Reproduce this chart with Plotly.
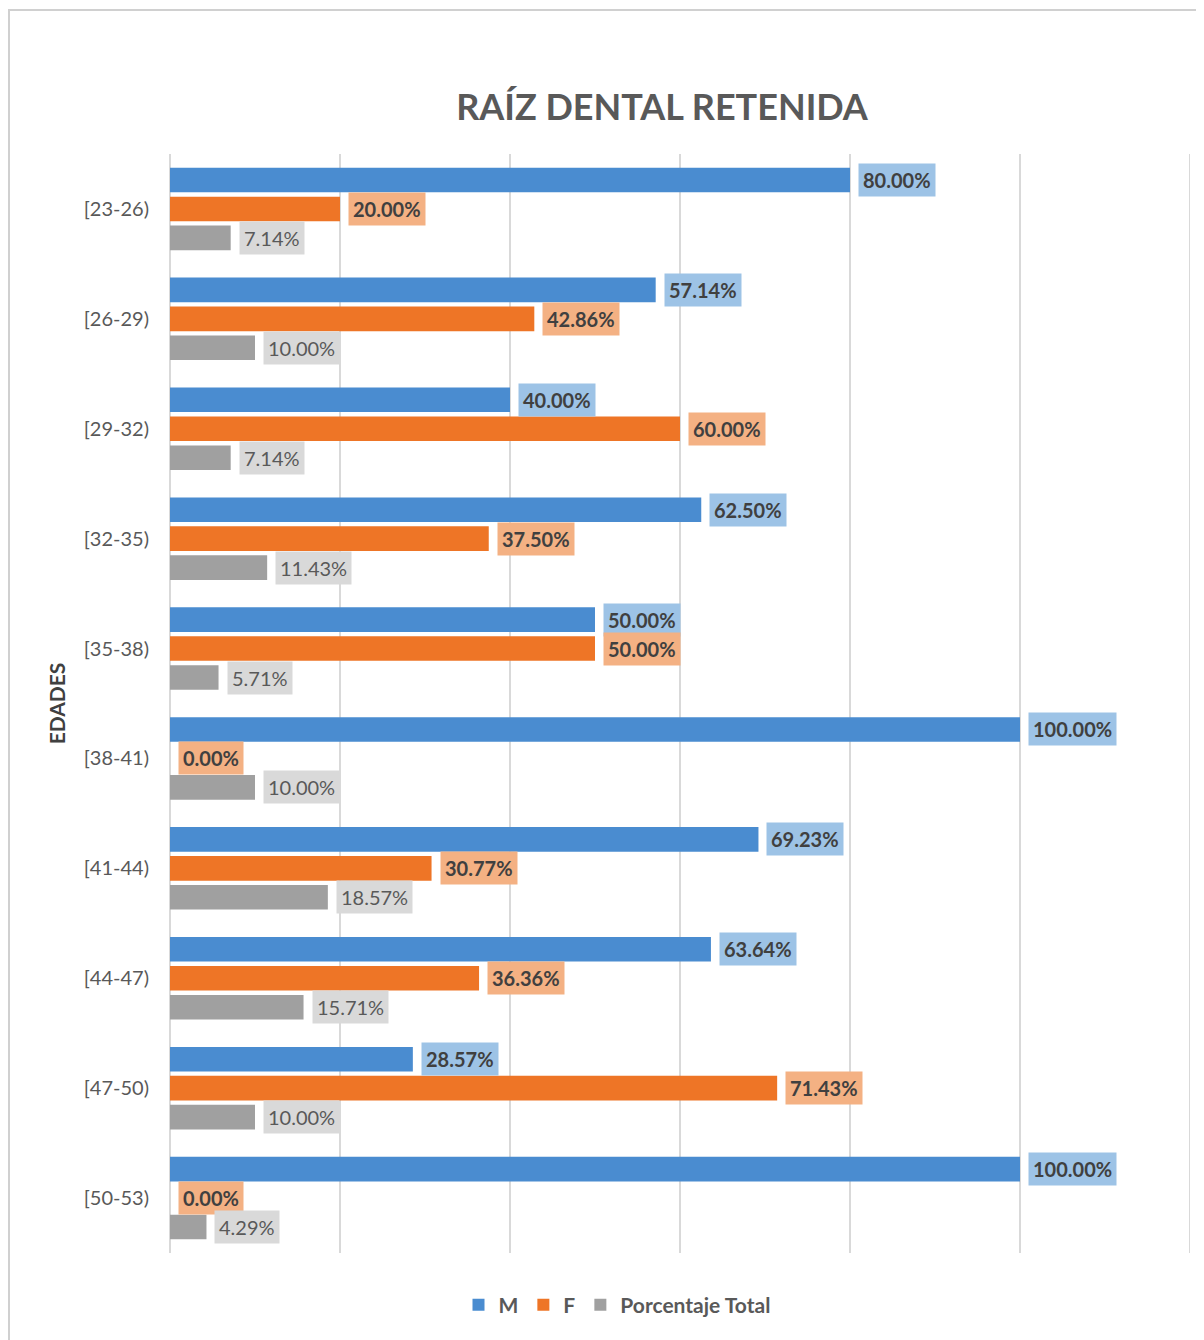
import plotly.graph_objects as go

categories = ["[23-26)", "[26-29)", "[29-32)", "[32-35)", "[35-38)",
              "[38-41)", "[41-44)", "[44-47)", "[47-50)", "[50-53)"]
m_values = [80.00, 57.14, 40.00, 62.50, 50.00, 100.00, 69.23, 63.64, 28.57, 100.00]
f_values = [20.00, 42.86, 60.00, 37.50, 50.00, 0.00, 30.77, 36.36, 71.43, 0.00]
total_values = [7.14, 10.00, 7.14, 11.43, 5.71, 10.00, 18.57, 15.71, 10.00, 4.29]
series_names = ["M", "F", "Porcentaje Total"]
x_max = 120

bar_colors = ["#4A8CD0", "#EE7526", "#A0A0A0"]
label_bg = ["#9DC3E6", "#F4B183", "#D9D9D9"]
label_bold = [True, True, False]
label_color = ["#404040", "#404040", "#595959"]
FONT = "Lato, 'Open Sans', sans-serif"

# page body adds an 8px offset; margins below account for it
L, T = 162, 146
PW, PH = 1020, 1099
W, H = 1196, 1332

fig = go.Figure()
all_series = [m_values, f_values, total_values]
for name, vals, col in zip(series_names, all_series, bar_colors):
    fig.add_trace(go.Bar(
        y=categories, x=vals, name=f"<b>{name}</b>", orientation="h",
        marker=dict(color=col, line=dict(width=0)),
        hovertemplate=name + ": %{x:.2f}%<extra>%{y}</extra>",
    ))

shifts = [29, 0, -29]
for i, vals in enumerate(all_series):
    for cat, v in zip(categories, vals):
        txt = f"{v:.2f}%"
        if label_bold[i]:
            txt = f"<b>{txt}</b>"
        fig.add_annotation(
            x=v, y=cat, xref="x", yref="y", text=txt, showarrow=False,
            xanchor="left", yanchor="middle", xshift=8, yshift=shifts[i],
            bgcolor=label_bg[i], borderpad=4,
            font=dict(family=FONT, size=20, color=label_color[i]),
        )

# chart border (top and left visible)
fig.add_shape(type="rect", xref="paper", yref="paper",
              x0=(1 - L) / PW, x1=(W + 40 - L) / PW,
              y0=-(H + 40 - T - PH) / PH, y1=1 + (T - 2) / PH,
              line=dict(color="#D0D0D0", width=2), layer="below")
# gridline at the end of the value axis
fig.add_shape(type="line", xref="x", yref="paper", x0=x_max, x1=x_max, y0=0, y1=1,
              line=dict(color="#D9D9D9", width=2), layer="below")

fig.update_layout(
    width=W, height=H,
    margin=dict(l=L, r=W - L - PW, t=T, b=H - T - PH),
    paper_bgcolor="white", plot_bgcolor="white",
    barmode="group", bargap=0.21, bargroupgap=0.15,
    title=dict(text="<b>RAÍZ DENTAL RETENIDA</b>", x=(654 - L) / PW, xref="paper",
               xanchor="center", y=1 - 99 / H, yanchor="middle",
               font=dict(family=FONT, size=36, color="#595959")),
    legend=dict(orientation="h", x=(609 - L) / PW, xanchor="center",
                y=-(1297 - T - PH) / PH, yanchor="middle",
                font=dict(family=FONT, size=21, color="#595959"),
                itemwidth=30, traceorder="normal"),
    xaxis=dict(range=[0, x_max], tick0=0, dtick=20, showticklabels=False, showgrid=True,
               gridcolor="#D9D9D9", gridwidth=2, zeroline=True, zerolinecolor="#D9D9D9",
               zerolinewidth=2, fixedrange=True),
    yaxis=dict(categoryorder="array", categoryarray=categories, autorange="reversed",
               ticks="", showline=False, ticklabelstandoff=20,
               tickfont=dict(family=FONT, size=20, color="#595959"),
               title=dict(text="<b>EDADES</b>", standoff=12,
                          font=dict(family=FONT, size=21, color="#404040"))),
)

fig.write_html("out.html")
